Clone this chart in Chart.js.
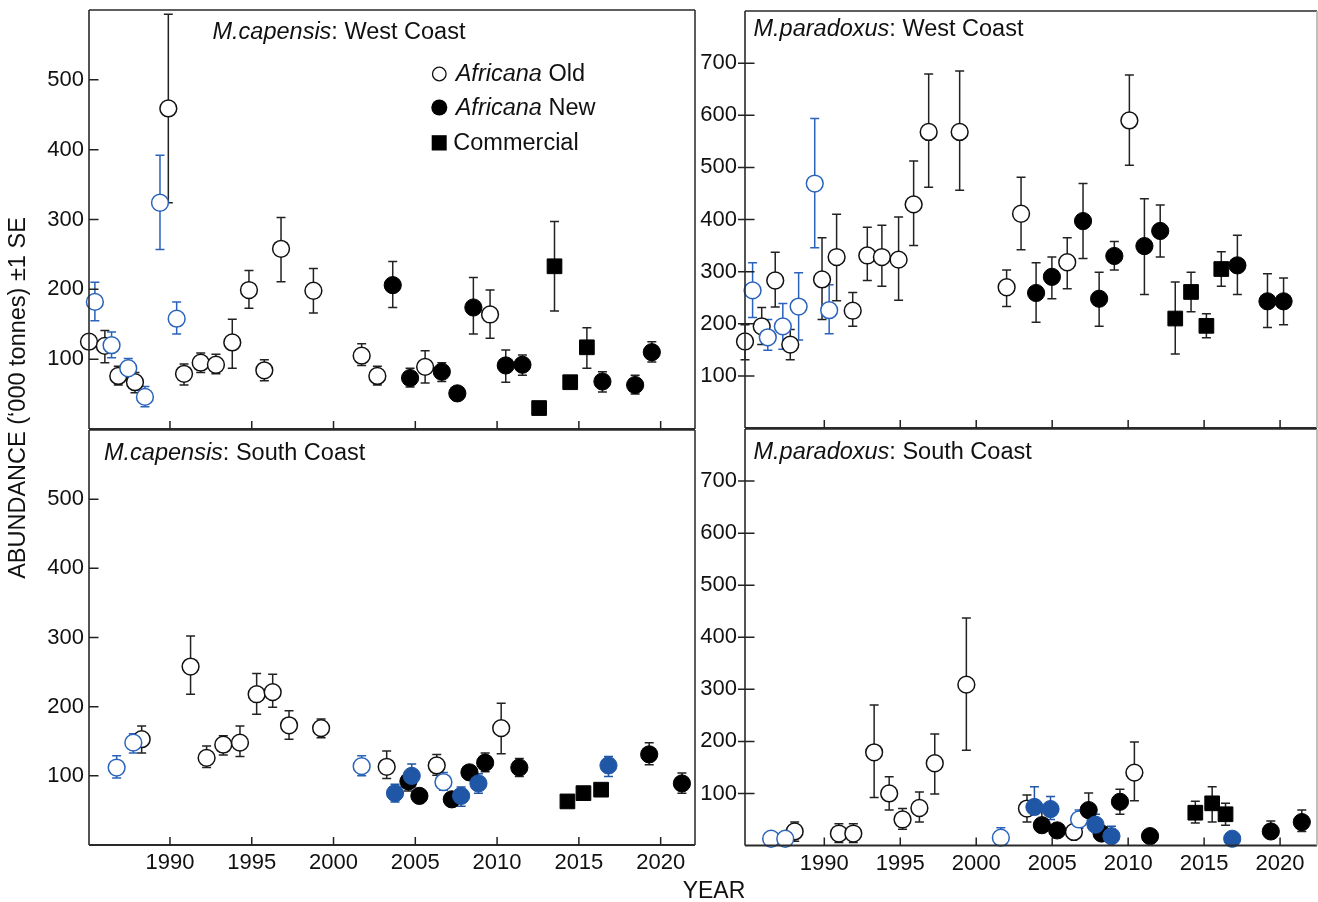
<!DOCTYPE html>
<html>
<head>
<meta charset="utf-8">
<script src="https://cdn.jsdelivr.net/npm/chart.js@4.4.1/dist/chart.umd.min.js"></script>
<style>
  html, body { margin: 0; padding: 0; background: #fff; }
  #wrap { position: relative; width: 1318px; height: 902px; overflow: hidden; }
  #wrap canvas { position: absolute; left: 0; top: 0; }
</style>
</head>
<body>
<div id="wrap">
  <canvas id="c0" width="1318" height="902"></canvas>
  <canvas id="c1" width="1318" height="902"></canvas>
  <canvas id="c2" width="1318" height="902"></canvas>
  <canvas id="c3" width="1318" height="902"></canvas>
</div>
<script>
// ---------------- DATA: [year, abundance, lower SE bound, upper SE bound] ----------------
// M. capensis : West Coast
const capW_oldBlack = [
  [1985.05,125,null,null],[1986.02,119,95,141],[1986.84,76,63,90],[1987.86,67,52,81],
  [1989.90,459,324,594],[1990.86,79,63,93],[1991.88,95,81,109],[1992.81,92,79,107],
  [1993.81,124,87,157],[1994.83,199,173,227],[1995.77,84,69,99],[1996.79,258,211,303],
  [1998.77,198,166,230],[2001.72,105,91,122],[2002.68,76,63,90],[2005.60,89,66,112],
  [2009.57,164,130,199]
];
const capW_oldBlue = [
  [1985.41,182,155,210],[1986.43,120,102,139],[1987.45,87,74,101],[1988.47,46,32,61],
  [1989.39,324,257,392],[1990.41,158,136,182]
];
const capW_newBlack = [
  [2003.62,206,174,240],[2004.68,73,60,87],[2006.62,82,68,95],[2007.57,51,null,null],
  [2008.55,174,136,217],[2010.53,91,67,113],[2011.55,92,77,106],[2016.44,68,53,82],
  [2018.44,63,50,77],[2019.46,110,96,125]
];
const capW_newBlue = [];
const capW_comm = [
  [2012.57,30,null,null],[2013.51,233,169,297],[2014.47,67,null,null],[2015.49,117,87,145]
];

// M. capensis : South Coast
const capS_oldBlack = [
  [1988.27,153,133,172],[1991.26,258,218,302],[1992.24,126,112,143],[1993.26,145,130,158],
  [1994.28,148,128,172],[1995.30,218,189,248],[1996.28,221,199,247],[1997.28,173,153,194],
  [1999.24,169,155,182],[2003.25,113,96,136],[2006.31,115,101,131],[2010.25,169,132,205]
];
const capS_oldBlue = [
  [1986.74,112,97,129],[1987.76,148,133,161],[2001.72,114,100,129],[2006.72,91,79,105]
];
const capS_newBlack = [
  [2004.58,92,78,106],[2005.25,71,null,null],[2007.23,66,null,null],[2008.31,105,null,null],
  [2009.27,119,106,133],[2011.36,112,99,125],[2019.30,131,116,148],[2021.30,89,75,104]
];
const capS_newBlue = [
  [2003.76,75,62,88],[2004.78,100,84,117],[2007.80,71,56,84],[2008.86,89,75,103],
  [2016.81,115,99,128]
];
const capS_comm = [
  [2014.30,63,null,null],[2015.28,75,null,null],[2016.36,80,null,null]
];

// M. paradoxus : West Coast
const parW_oldBlack = [
  [1984.78,166,131,198],[1985.88,195,160,231],[1986.77,283,232,337],[1987.76,160,131,189],
  [1989.85,285,208,365],[1990.81,328,244,410],[1991.87,225,195,260],[1992.83,331,283,385],
  [1993.79,328,272,389],[1994.89,323,245,405],[1995.88,429,350,512],[1996.87,568,462,679],
  [1998.91,568,456,685],[2002.00,270,233,303],[2002.95,411,342,481],[2005.99,318,267,365],
  [2010.08,590,504,677]
];
const parW_oldBlue = [
  [1985.28,264,212,317],[1986.28,174,149,208],[1987.27,195,151,239],[1988.31,233,169,298],
  [1989.37,469,346,594],[1990.32,226,181,275]
];
const parW_newBlack = [
  [2003.94,259,203,317],[2004.98,290,248,328],[2007.03,397,325,469],[2008.09,248,195,299],
  [2009.09,330,303,358],[2011.07,349,256,440],[2012.11,378,328,428],[2017.19,312,256,370],
  [2019.17,243,193,296],[2020.23,243,198,288]
];
const parW_newBlue = [];
const parW_comm = [
  [2013.10,210,142,280],[2014.14,261,223,299],[2015.15,196,173,219],[2016.13,305,272,338]
];

// M. paradoxus : South Coast
const parS_oldBlack = [
  [1988.05,27,8,45],[1990.96,23,6,42],[1991.91,23,6,42],[1993.28,179,92,270],
  [1994.27,100,68,132],[1995.15,50,31,71],[1996.26,72,45,103],[1997.27,158,99,214],
  [1999.35,309,183,437],[2003.34,71,45,97],[2006.43,26,null,null],[2010.41,140,86,199]
];
const parS_oldBlue = [
  [1986.50,13,null,null],[1987.43,13,null,null],[2001.62,15,null,34],[2006.77,50,33,68]
];
const parS_newBlack = [
  [2004.32,39,null,68],[2005.33,29,null,null],[2007.40,68,52,101],[2008.25,23,null,null],
  [2009.46,84,60,108],[2011.44,18,null,null],[2019.39,27,null,47],[2021.43,45,27,68]
];
const parS_newBlue = [
  [2003.83,74,null,113],[2004.89,70,50,94],[2007.85,40,null,60],[2008.90,18,null,37],
  [2016.85,13,null,null]
];
const parS_comm = [
  [2014.42,63,43,85],[2015.53,81,45,113],[2016.41,60,39,81]
];

// Tick labels
const xTickYears = [1990, 1995, 2000, 2005, 2010, 2015, 2020];
const yTicksCapensis = [100, 200, 300, 400, 500];
const yTicksParadoxus = [100, 200, 300, 400, 500, 600, 700];

// Text
const legendItems = [
  { italic: 'Africana', rest: ' Old' },
  { italic: 'Africana', rest: ' New' },
  { italic: '', rest: 'Commercial' }
];
const xAxisTitle = 'YEAR';
const yAxisTitle = 'ABUNDANCE (\u2018000 tonnes) \u00B11 SE';

// ---------------- STYLE ----------------
const FONT = '"Liberation Sans", Arial, Helvetica, sans-serif';
const INK = '#111111';
const BLUE_OPEN = '#2a63bb';
const BLUE_FILL = '#1f56a6';
const W = 1318, H = 902;
const YW = 60;

const seriesStyles = {
  oldBlack: { pointStyle: 'circle', radius: 8.4, bg: '#ffffff', border: INK, bw: 1.5, err: '#222222', order: 5 },
  oldBlue:  { pointStyle: 'circle', radius: 8.4, bg: '#ffffff', border: BLUE_OPEN, bw: 1.5, err: BLUE_OPEN, order: 4 },
  newBlack: { pointStyle: 'circle', radius: 8.6, bg: '#000000', border: '#000000', bw: 1, err: '#222222', order: 3 },
  comm:     { pointStyle: 'rect', radius: 10.4, bg: '#000000', border: '#000000', bw: 1, err: '#222222', order: 2 },
  newBlue:  { pointStyle: 'circle', radius: 8.6, bg: BLUE_FILL, border: BLUE_FILL, bw: 1, err: BLUE_FILL, order: 1 }
};

const panels = [
  { id: 'c0', area: { l: 89, t: 10, r: 695, b: 429 }, xMin: 1985.05, xMax: 2022.1, yMax: 600,
    yTicks: yTicksCapensis, xLabels: false, yPad: 5, yOut: 0,
    title: ['M.capensis', ': West Coast'], titleX: 212.5, titleY: 39, legend: true, rightColor: '#333',
    series: { oldBlack: capW_oldBlack, oldBlue: capW_oldBlue, newBlack: capW_newBlack, comm: capW_comm, newBlue: capW_newBlue } },
  { id: 'c1', area: { l: 89, t: 430, r: 695, b: 845 }, xMin: 1985.05, xMax: 2022.1, yMax: 600,
    yTicks: yTicksCapensis, xLabels: true, yPad: 5, yOut: 0,
    title: ['M.capensis', ': South Coast'], titleX: 104, titleY: 460, legend: false, rightColor: '#333', axisTitles: true,
    series: { oldBlack: capS_oldBlack, oldBlue: capS_oldBlue, newBlack: capS_newBlack, comm: capS_comm, newBlue: capS_newBlue } },
  { id: 'c2', area: { l: 745, t: 11, r: 1317, b: 428 }, xMin: 1984.78, xMax: 2022.43, yMax: 800,
    yTicks: yTicksParadoxus, xLabels: false, yPad: 8, yOut: 7,
    title: ['M.paradoxus', ': West Coast'], titleX: 753.5, titleY: 36, legend: false, rightColor: '#b0b0b0',
    series: { oldBlack: parW_oldBlack, oldBlue: parW_oldBlue, newBlack: parW_newBlack, comm: parW_comm, newBlue: parW_newBlue } },
  { id: 'c3', area: { l: 745, t: 429, r: 1317, b: 845.5 }, xMin: 1984.78, xMax: 2022.43, yMax: 800,
    yTicks: yTicksParadoxus, xLabels: true, yPad: 8, yOut: 7,
    title: ['M.paradoxus', ': South Coast'], titleX: 753.5, titleY: 459, legend: false, rightColor: '#b0b0b0',
    series: { oldBlack: parS_oldBlack, oldBlue: parS_oldBlue, newBlack: parS_newBlack, comm: parS_comm, newBlue: parS_newBlue } }
];

// ---------------- PLUGINS ----------------
const errorBars = {
  id: 'errorBars',
  beforeDatasetsDraw(chart) {
    const { ctx, scales: { x, y } } = chart;
    ctx.save();
    ctx.lineWidth = 1.5;
    chart.data.datasets.forEach(ds => {
      ctx.strokeStyle = ds.errColor;
      ds.data.forEach(p => {
        if (p.lo == null && p.hi == null) return;
        const px = x.getPixelForValue(p.x);
        const top = y.getPixelForValue(p.hi != null ? p.hi : p.y);
        const bot = y.getPixelForValue(p.lo != null ? p.lo : p.y);
        ctx.beginPath();
        ctx.moveTo(px, top); ctx.lineTo(px, bot);
        if (p.hi != null) { ctx.moveTo(px - 4.5, top); ctx.lineTo(px + 4.5, top); }
        if (p.lo != null) { ctx.moveTo(px - 4.5, bot); ctx.lineTo(px + 4.5, bot); }
        ctx.stroke();
      });
    });
    ctx.restore();
  }
};

function drawMixed(ctx, parts, x, y, size) {
  let cx = x;
  ctx.textBaseline = 'alphabetic';
  ctx.textAlign = 'left';
  parts.forEach(([txt, italic]) => {
    if (!txt) return;
    ctx.font = (italic ? 'italic ' : '') + size + 'px ' + FONT;
    ctx.fillText(txt, cx, y);
    cx += ctx.measureText(txt).width;
  });
}

const decor = {
  id: 'decor',
  afterDraw(chart, args, opts) {
    const P = opts.panel;
    const { ctx, chartArea: a, scales: { x, y } } = chart;
    ctx.save();
    // frame
    ctx.strokeStyle = '#2a2a2a';
    ctx.lineWidth = 1.6;
    ctx.beginPath();
    ctx.moveTo(a.left, a.top); ctx.lineTo(a.right, a.top);
    ctx.moveTo(a.left, a.top); ctx.lineTo(a.left, a.bottom);
    ctx.stroke();
    ctx.lineWidth = 2.2;
    ctx.beginPath();
    ctx.moveTo(a.left, a.bottom); ctx.lineTo(a.right, a.bottom);
    ctx.stroke();
    ctx.strokeStyle = P.rightColor;
    ctx.lineWidth = 1.6;
    ctx.beginPath();
    ctx.moveTo(a.right, a.top); ctx.lineTo(a.right, a.bottom);
    ctx.stroke();
    // tick marks
    ctx.strokeStyle = '#222';
    ctx.lineWidth = 1.5;
    ctx.beginPath();
    xTickYears.forEach(v => {
      const px = x.getPixelForValue(v);
      ctx.moveTo(px, a.bottom); ctx.lineTo(px, a.bottom - 8);
    });
    P.yTicks.forEach(v => {
      const py = y.getPixelForValue(v);
      ctx.moveTo(a.left - P.yOut, py); ctx.lineTo(a.left + 9.5, py);
    });
    ctx.stroke();
    // title
    ctx.fillStyle = INK;
    drawMixed(ctx, [[P.title[0], true], [P.title[1], false]], P.titleX, P.titleY, 23.5);
    // legend
    if (P.legend) {
      const lx = 439.3;
      ctx.strokeStyle = INK; ctx.fillStyle = '#fff'; ctx.lineWidth = 1.3;
      ctx.beginPath(); ctx.arc(lx, 74, 6.8, 0, Math.PI * 2); ctx.fill(); ctx.stroke();
      ctx.fillStyle = '#000';
      ctx.beginPath(); ctx.arc(lx, 107.5, 8, 0, Math.PI * 2); ctx.fill();
      ctx.fillRect(431.7, 135.2, 15, 15.3);
      ctx.fillStyle = INK;
      drawMixed(ctx, [[legendItems[0].italic, true], [legendItems[0].rest, false]], 455.7, 80.5, 23.5);
      drawMixed(ctx, [[legendItems[1].italic, true], [legendItems[1].rest, false]], 455.7, 114.5, 23.5);
      drawMixed(ctx, [[legendItems[2].italic, true], [legendItems[2].rest, false]], 453.3, 150, 23.5);
    }
    // axis titles
    if (P.axisTitles) {
      ctx.fillStyle = INK;
      ctx.font = '23px ' + FONT;
      ctx.textAlign = 'center';
      ctx.textBaseline = 'alphabetic';
      ctx.fillText(xAxisTitle, 714, 898);
      ctx.save();
      ctx.translate(25, 398);
      ctx.rotate(-Math.PI / 2);
      ctx.font = '23.5px ' + FONT;
      ctx.fillText(yAxisTitle, 0, 0);
      ctx.restore();
    }
    ctx.restore();
  }
};

// ---------------- BUILD CHARTS ----------------
function toPoints(arr) {
  return arr.map(d => ({ x: d[0], y: d[1], lo: d[2], hi: d[3] }));
}

panels.forEach(P => {
  const XH = P.xLabels ? 40 : 0;
  const datasets = Object.keys(P.series).map(key => {
    const s = seriesStyles[key];
    return {
      label: key,
      data: toPoints(P.series[key]),
      pointStyle: s.pointStyle,
      pointRadius: s.radius,
      pointHoverRadius: s.radius,
      pointBackgroundColor: s.bg,
      pointBorderColor: s.border,
      pointBorderWidth: s.bw,
      showLine: false,
      clip: false,
      order: s.order,
      errColor: s.err
    };
  });
  new Chart(document.getElementById(P.id), {
    type: 'scatter',
    data: { datasets },
    options: {
      responsive: false,
      animation: false,
      devicePixelRatio: 1,
      events: [],
      layout: {
        autoPadding: false,
        padding: { left: P.area.l - YW, right: W - P.area.r, top: P.area.t, bottom: H - P.area.b - XH }
      },
      plugins: {
        legend: { display: false },
        tooltip: { enabled: false },
        decor: { panel: P }
      },
      scales: {
        x: {
          type: 'linear', min: P.xMin, max: P.xMax,
          display: P.xLabels,
          grid: { display: false, drawTicks: false },
          border: { display: false },
          ticks: { color: INK, font: { family: FONT, size: 22 }, padding: 5, maxRotation: 0,
                   callback: v => String(v) },
          afterBuildTicks: s => { s.ticks = xTickYears.map(v => ({ value: v })); },
          afterFit: s => { s.height = XH; s.paddingLeft = 0; s.paddingRight = 0; }
        },
        y: {
          type: 'linear', min: 0, max: P.yMax,
          grid: { display: false, drawTicks: false },
          border: { display: false },
          ticks: { color: INK, font: { family: FONT, size: 22 }, padding: P.yPad,
                   callback: v => String(v) },
          afterBuildTicks: s => { s.ticks = P.yTicks.map(v => ({ value: v })); },
          afterFit: s => { s.width = YW; s.paddingTop = 0; s.paddingBottom = 0; }
        }
      }
    },
    plugins: [errorBars, decor]
  });
});
</script>
</body>
</html>
